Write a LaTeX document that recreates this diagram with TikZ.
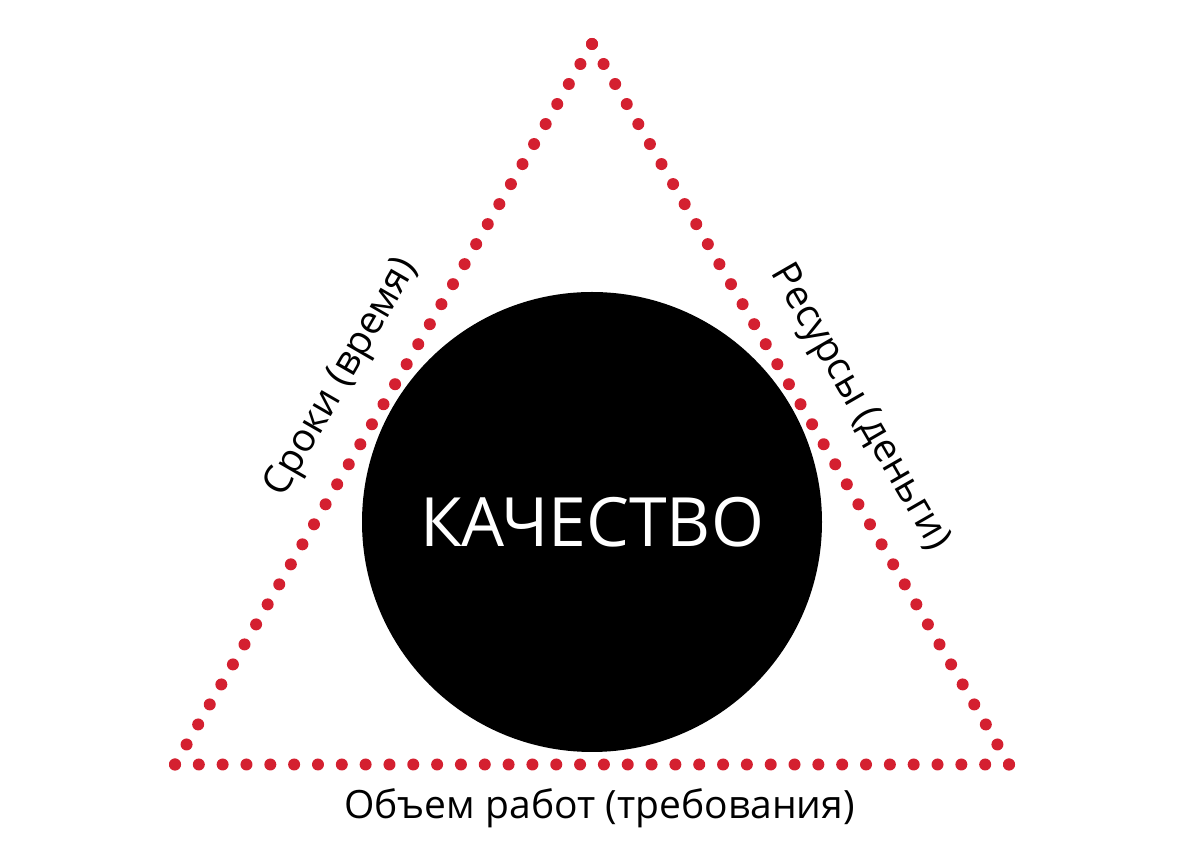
\documentclass[tikz,border=0pt]{standalone}
\usepackage{fontspec}
\setmainfont{Open Sans}
\usetikzlibrary{calc}
\definecolor{dotred}{HTML}{D42030}
\begin{document}
\begin{tikzpicture}[x=1pt,y=1pt,
  reddot/.style={fill=dotred},
  sidelabel/.style={font=\fontsize{39}{47}\selectfont, inner sep=0pt, anchor=center},
  biglabel/.style={font=\fontsize{68}{78}\selectfont, text=white, inner sep=0pt}]
\useasboundingbox (0,0) rectangle (1195,867);
\coordinate (A) at (592,823);
\coordinate (B) at (175,102.5);
\coordinate (C) at (1009,102.5);
\foreach \i in {0,...,36} {\fill[reddot] ($(A)!\i/36!(B)$) circle (6);}
\foreach \i in {0,...,36} {\fill[reddot] ($(A)!\i/36!(C)$) circle (6);}
\foreach \i in {0,...,35} {\fill[reddot] ($(B)!\i/35!(C)$) circle (6);}
\node[circle, fill=black, minimum size=460, inner sep=0pt] (Q) at (592,345) {};
\node[biglabel] (q) at (Q.center) {КАЧЕСТВО};
\node[sidelabel, rotate=60] (t) at (342,489) {Сроки (время)};
\node[sidelabel, rotate=-60] (r) at (859,459) {Ресурсы (деньги)};
\node[sidelabel] (s) at (599.5,59) {Объем работ (требования)};
\end{tikzpicture}
\end{document}
